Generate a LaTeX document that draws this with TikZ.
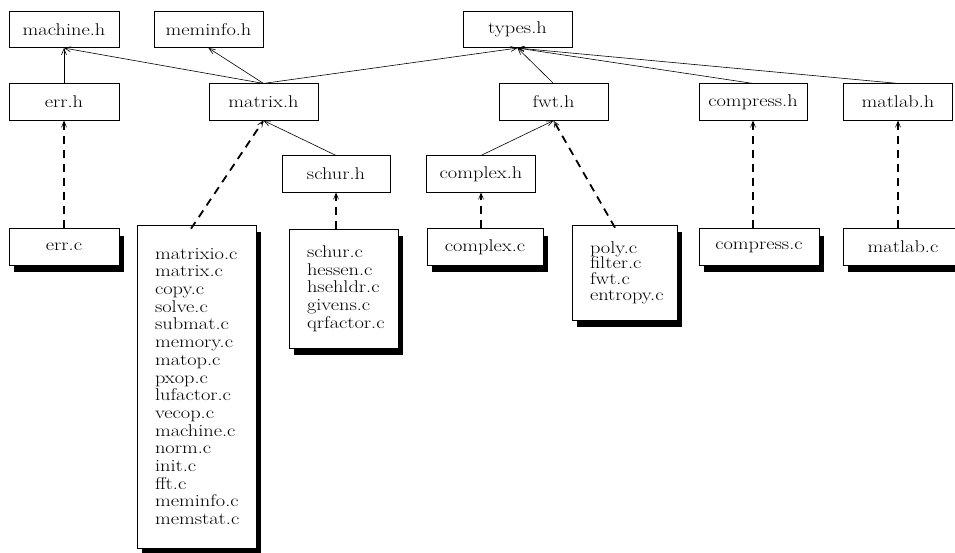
\documentclass[tikz,border=0pt]{standalone}
\usepackage{fontspec}
\newfontfamily\filefont{lmroman17-regular.otf}[FakeStretch=1.2]
\usetikzlibrary{arrows.meta,positioning,shadows}

\begin{document}
\begin{tikzpicture}[x=1pt,y=1pt,on grid,
	font=\filefont\fontsize{17}{17.7}\selectfont,
	hfile/.style={draw,line width=0.6pt,inner sep=0pt,minimum height=36.5pt},
	cfile/.style={hfile,fill=white,drop shadow={shadow xshift=5pt,shadow yshift=-7pt,fill=black,opacity=1}},
	clist/.style={cfile,align=left,inner xsep=18pt,text width=#1},
	uses/.style={line width=0.6pt,-{Straight Barb[length=6pt,width=5pt]}},
	impl/.style={line width=1.8pt,dash pattern=on 8pt off 6pt,-{Straight Barb[length=6pt,width=5pt,line width=0.6pt]}}]
	\useasboundingbox (0,0) rectangle (955,-553);
	% header files
	\node[hfile,minimum width=110pt] (machine) at (64,-29.5) {machine.h};
	\node[hfile,minimum width=109pt] (meminfo) [right=144.5pt of machine] {meminfo.h};
	\node[hfile,minimum width=109pt] (types) [right=309pt of meminfo] {types.h};
	\node[hfile,minimum width=110pt] (errh) [below=72.5pt of machine] {err.h};
	\node[hfile,minimum width=109pt] (matrixh) [right=199.5pt of errh] {matrix.h};
	\node[hfile,minimum width=109pt] (fwth) [right=290pt of matrixh] {fwt.h};
	\node[hfile,minimum width=108pt] (compressh) [right=199.5pt of fwth] {compress.h};
	\node[hfile,minimum width=109pt] (matlabh) [right=145pt of compressh] {matlab.h};
	\node[hfile,minimum width=108pt] (schurh) [below right=72pt and 72.5pt of matrixh] {schur.h};
	\node[hfile,minimum width=109pt] (complexh) [right=145pt of schurh] {complex.h};
	% source files
	\node[cfile,minimum width=110pt] (errc) [below=145pt of errh] {err.c};
	\node[clist=83pt,minimum height=323pt] (matrixc) at (196.5,-386.5)
		{matrixio.c\\matrix.c\\copy.c\\solve.c\\submat.c\\memory.c\\matop.c\\pxop.c\\
		lufactor.c\\vecop.c\\machine.c\\norm.c\\init.c\\fft.c\\meminfo.c\\memstat.c};
	\node[clist=73pt,minimum height=119pt] (schurc) at (343.5,-288.5)
		{schur.c\\hessen.c\\hsehldr.c\\givens.c\\qrfactor.c};
	\node[cfile,minimum width=116pt] (complexc) at (485,-247) {complex.c};
	\node[clist=69pt,minimum height=95pt] (polyc) at (624.5,-272.5)
		{poly.c\\[-2pt]filter.c\\[-2pt]fwt.c\\[-2pt]entropy.c};
	\node[cfile,minimum width=120pt] (compressc) at (759,-247) {compress.c};
	\node[cfile,minimum width=120pt] (matlabc) at (903,-247) {matlab.c};
	\path[uses]
	(errh.north) edge (machine.south)
	(matrixh.north) edge (machine.south)
		edge (meminfo.south)
		edge (types.south)
	(fwth.north) edge (types.south)
	(compressh.north) edge (types.south)
	(matlabh.north) edge (types.south)
	(schurh.north) edge (matrixh.south)
	(complexh.north) edge (fwth.south)
	;
	\path[impl]
	(errc.north) edge (errh.south)
	([xshift=-5.5pt,yshift=-4pt]matrixc.north) edge (matrixh.south)
	(schurh.south |- schurc.north) edge (schurh.south)
	(complexh.south |- complexc.north) edge (complexh.south)
	([xshift=-9.5pt,yshift=-3pt]polyc.north) edge (fwth.south)
	(compressh.south |- compressc.north) edge (compressh.south)
	(matlabh.south |- matlabc.north) edge (matlabh.south)
	;
\end{tikzpicture}
\end{document}
